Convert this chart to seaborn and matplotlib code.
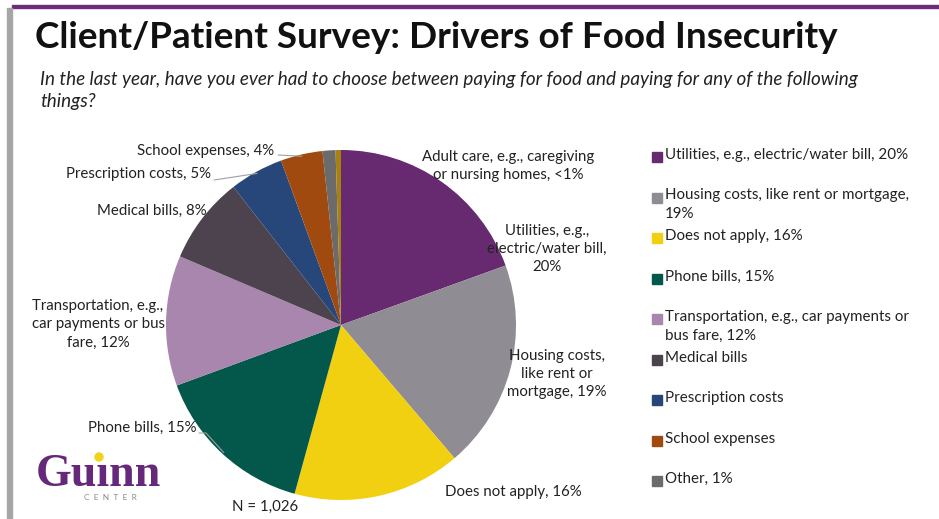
import numpy as np
import seaborn as sns
import matplotlib.pyplot as plt
from matplotlib.patches import Rectangle, Ellipse

# slice data, clockwise from 12 o'clock
categories = ["Utilities, e.g., electric/water bill", "Housing costs, like rent or mortgage",
              "Does not apply", "Phone bills", "Transportation, e.g., car payments or bus fare",
              "Medical bills", "Prescription costs", "School expenses", "Other",
              "Adult care, e.g., caregiving or nursing homes"]
shares = [19.6, 19.4, 15.6, 15.2, 12.1, 8.1, 5.0, 3.9, 1.2, 0.5]
colors = ["#67296f", "#8f8d93", "#f1d011", "#03574b", "#a886ad",
          "#4d434f", "#27477a", "#a04a10", "#6b6b6b", "#a7800f"]

slice_labels = ["Utilities, e.g.,\nelectric/water bill,\n20%", "Housing costs,\nlike rent or\nmortgage, 19%",
                "Does not apply, 16%", "Phone bills, 15%", "Transportation, e.g.,\ncar payments or bus\nfare, 12%",
                "Medical bills, 8%", "Prescription costs, 5%", "School expenses, 4%", "",
                "Adult care, e.g., caregiving\nor nursing homes, <1%"]

legend_labels = ["Utilities, e.g., electric/water bill, 20%", "Housing costs, like rent or mortgage,\n19%",
                 "Does not apply, 16%", "Phone bills, 15%", "Transportation, e.g., car payments or\nbus fare, 12%",
                 "Medical bills", "Prescription costs", "School expenses", "Other, 1%"]
legend_colors = colors[:9]

sns.set_theme(style="white")
plt.rcParams['font.family'] = ['Lato', 'DejaVu Sans']

W, H = 939, 519
fig = plt.figure(figsize=(W / 100, H / 100), dpi=100)


def fx(px):
    return px / W


def fy(py):
    return 1 - py / H


# frame decorations: purple rule on top, grey bar at left
fig.patches.append(Rectangle((fx(12), fy(8)), 1, 3 / H, transform=fig.transFigure, color="#6d2b7a"))
fig.patches.append(Rectangle((fx(7), 0), 5 / W, fy(8), transform=fig.transFigure, color="#a6a6a6"))

title = fig.text(fx(35), fy(37), "Client/Patient Survey: Drivers of Food Insecurity",
                 weight='bold', size=29, color="#111", va='center')
# shrink the title until it spans the same width as on the slide
renderer = fig.canvas.get_renderer()
tw = title.get_window_extent(renderer).width
title.set_fontsize(29 * 803 / tw)

fig.text(fx(40), fy(80), "In the last year, have you ever had to choose between paying for food and paying for any of the following",
         style='italic', size=13.6, color="#222", va='center')
fig.text(fx(40), fy(102), "things?", style='italic', size=13.6, color="#222", va='center')

# pie
cx, cy, r = 341, 325, 175
ax = fig.add_axes([fx(cx - r), fy(cy + r), 2 * r / W, 2 * r / H])
wedges, _ = ax.pie(shares, colors=colors, startangle=90, counterclock=False,
                   wedgeprops=dict(linewidth=0))
ax.set_xlim(-1, 1)
ax.set_ylim(-1, 1)
ax.set_aspect('auto')
ax.axis('off')

# label positions (pixel centres) and alignment
label_pos = {0: (547, 249, 'center'), 1: (557, 374, 'center'), 2: (445, 492, 'left'),
             3: (197, 428, 'right'), 4: (98, 324, 'center'), 5: (207, 211, 'right'),
             6: (211, 174, 'right'), 7: (274, 151, 'right'), 9: (508, 166, 'center')}
for i, (px, py, ha) in label_pos.items():
    fig.text(fx(px), fy(py), slice_labels[i], ha=ha, va='center', size=10.8,
             color="#222", linespacing=1.4)

# leader lines: (start, elbow) in pixels, ending on the slice's outer edge
total = sum(shares)
cum = np.cumsum([0] + shares)
leaders = {3: [(199, 433), (206, 433)], 6: [(214, 180)], 7: [(278, 155)]}
for i, pts in leaders.items():
    mid = 90 - 360 * (cum[i] + cum[i + 1]) / 2 / total
    ex = cx + r * 0.99 * np.cos(np.radians(mid))
    ey = cy - r * 0.99 * np.sin(np.radians(mid))
    xs = [fx(p[0]) for p in pts] + [fx(ex)]
    ys = [fy(p[1]) for p in pts] + [fy(ey)]
    fig.lines.append(plt.Line2D(xs, ys, transform=fig.transFigure, color="#a0a0a0", lw=0.8))

# legend drawn by hand to keep the slide spacing
for k, (lab, col) in enumerate(zip(legend_labels, legend_colors)):
    top = 150 + k * 40.5
    fig.patches.append(Rectangle((fx(652), fy(top + 12)), 10 / W, 10 / H,
                                 transform=fig.transFigure, color=col))
    fig.text(fx(665), fy(top - 2), lab, ha='left', va='top', size=10.9, color="#222",
             linespacing=1.4)

# logo and sample size
fig.text(fx(36), fy(475), "Gu\u0131nn", family=['Liberation Serif', 'DejaVu Serif'], weight='bold',
         size=33, color="#65287a", va='center')
fig.patches.append(Ellipse((fx(99), fy(457)), 8 / W, 8 / H, transform=fig.transFigure, color="#f2d21c"))
fig.text(fx(110), fy(498), "C  E  N  T  E  R", size=6, color="#8a8a8a", ha='center', va='center')
fig.text(fx(265), fy(507), "N = 1,026", size=10.8, color="#222", ha='center', va='center')

fig.savefig("out.png", dpi=100, facecolor="white")
